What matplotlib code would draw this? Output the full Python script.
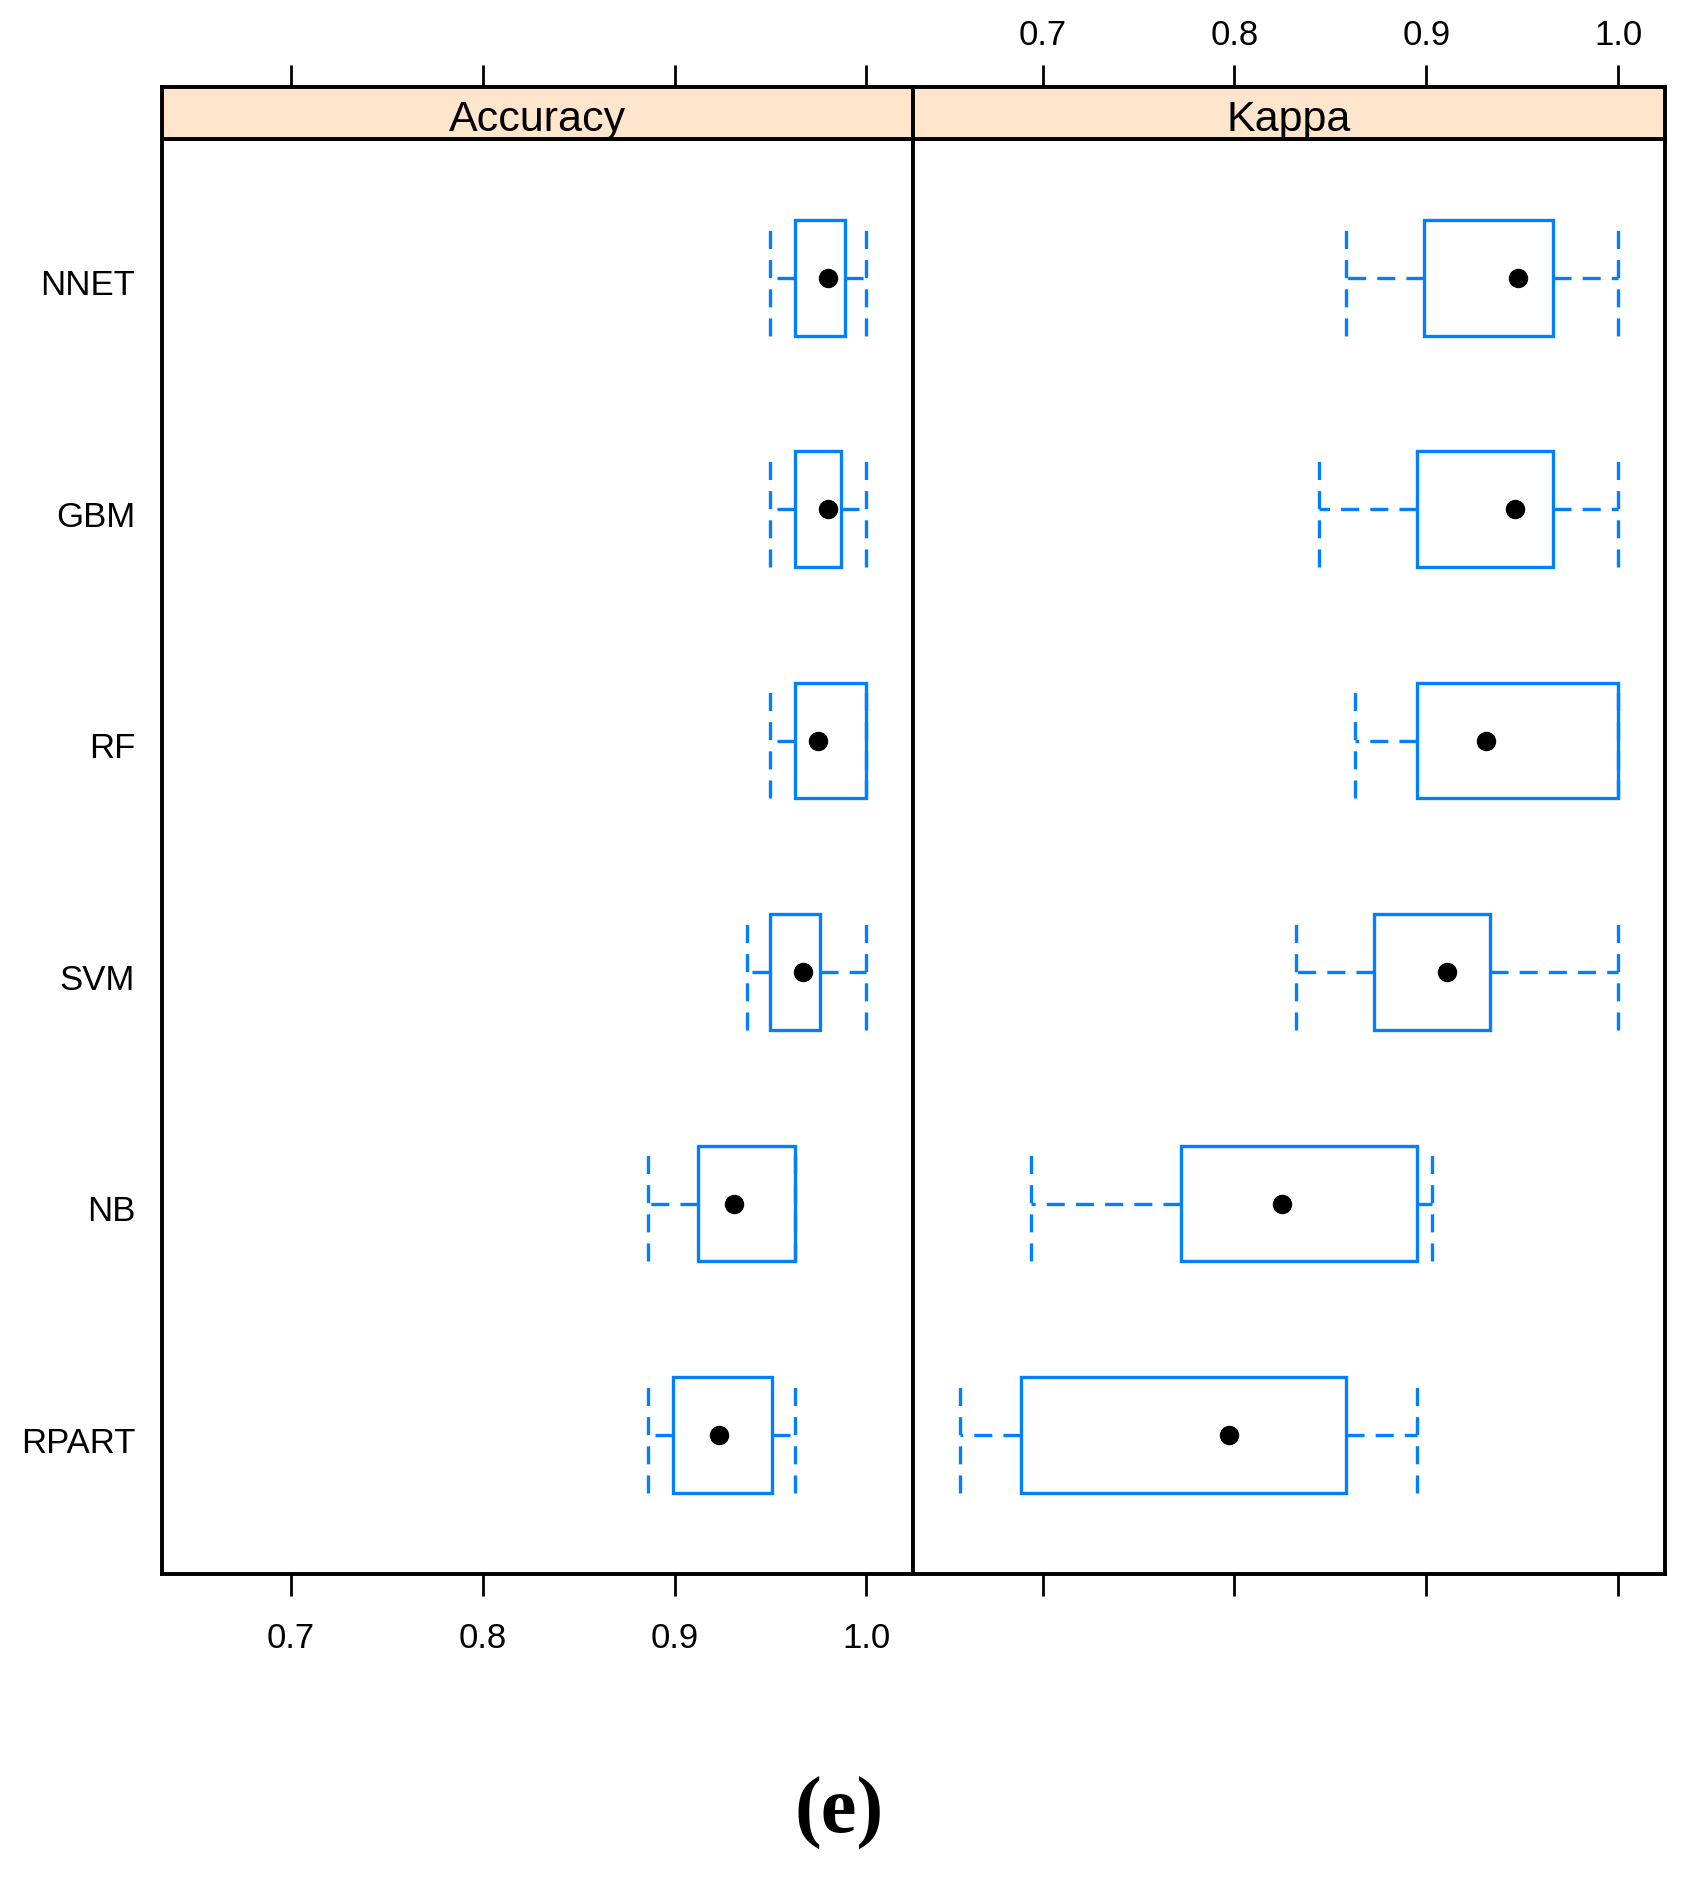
import matplotlib
matplotlib.use("Agg")
import matplotlib.pyplot as plt
from matplotlib.patches import Rectangle

plt.rcParams['font.family'] = ['Liberation Sans', 'DejaVu Sans']
plt.rcParams['lines.scale_dashes'] = False

# ---- data (bottom to top) ----
models = ["RPART", "NB", "SVM", "RF", "GBM", "NNET"]

acc_lo  = [0.886, 0.886, 0.938, 0.950, 0.950, 0.950]
acc_q1  = [0.899, 0.912, 0.950, 0.963, 0.963, 0.963]
acc_med = [0.923, 0.931, 0.967, 0.975, 0.980, 0.980]
acc_q3  = [0.951, 0.963, 0.976, 1.000, 0.987, 0.989]
acc_hi  = [0.963, 0.963, 1.000, 1.000, 1.000, 1.000]

kap_lo  = [0.657, 0.694, 0.832, 0.863, 0.844, 0.858]
kap_q1  = [0.689, 0.772, 0.873, 0.895, 0.895, 0.899]
kap_med = [0.797, 0.825, 0.911, 0.931, 0.946, 0.948]
kap_q3  = [0.858, 0.895, 0.933, 1.000, 0.966, 0.966]
kap_hi  = [0.895, 0.903, 1.000, 1.000, 1.000, 1.000]

panels = ["Accuracy", "Kappa"]
xticks = [0.7, 0.8, 0.9, 1.0]
xticklabels = ["0.7", "0.8", "0.9", "1.0"]
caption = "(e)"

BLUE = "#0080ff"
STRIP = "#ffe5cc"
XLIM = (0.6326, 1.0244)
YLIM = (0.4, 6.6)

W, H = 1696, 1877
fig = plt.figure(figsize=(W / 100, H / 100), dpi=100)

x_edges = [161.6, 913.2, 1665.0]
strip_top, strip_bot, panel_bot = 87.4, 138.8, 1573.9

def fy(p):
    return 1 - p / H

data = [
    (acc_lo, acc_q1, acc_med, acc_q3, acc_hi),
    (kap_lo, kap_q1, kap_med, kap_q3, kap_hi),
]

LW = 2.4
dash = (0, (13, 8))

for i, name in enumerate(panels):
    x0 = x_edges[i] / W
    w = (x_edges[i + 1] - x_edges[i]) / W
    ax = fig.add_axes([x0, fy(panel_bot), w, fy(strip_bot) - fy(panel_bot)])
    sx = fig.add_axes([x0, fy(strip_bot), w, fy(strip_top) - fy(strip_bot)])

    lo, q1, med, q3, hi = data[i]
    for j in range(len(models)):
        y = j + 1
        ax.add_patch(Rectangle((q1[j], y - 0.25), q3[j] - q1[j], 0.5,
                               fill=False, ec=BLUE, lw=LW, zorder=3))
        if q1[j] > lo[j]:
            ax.plot([q1[j], lo[j]], [y, y], color=BLUE, lw=LW, ls=dash,
                    dash_capstyle='butt')
        if hi[j] > q3[j]:
            ax.plot([q3[j], hi[j]], [y, y], color=BLUE, lw=LW, ls=dash,
                    dash_capstyle='butt')
        for xv in (lo[j], hi[j]):
            ax.plot([xv, xv], [y - 0.25, y + 0.25], color=BLUE, lw=LW,
                    ls=dash, dash_capstyle='butt')
        ax.plot([med[j]], [y], 'o', color='black', ms=13, zorder=5)

    ax.set_xlim(*XLIM)
    ax.set_ylim(*YLIM)
    sx.set_xlim(*XLIM)
    sx.set_ylim(0, 1)
    for a in (ax, sx):
        for s in a.spines.values():
            s.set_linewidth(2.8)
    sx.set_facecolor(STRIP)
    sx.text(0.5, 0.37, name, transform=sx.transAxes, ha='center', va='center',
            fontsize=31)
    sx.set_yticks([])
    sx.xaxis.set_ticks_position('top')
    sx.set_xticks(xticks)
    sx.tick_params(axis='x', direction='out', length=15.5, width=2.0,
                   pad=10, labelsize=25)
    if i == 1:
        sx.set_xticklabels(xticklabels)
    else:
        sx.set_xticklabels([])

    ax.set_xticks(xticks)
    ax.tick_params(axis='x', direction='out', length=15.5, width=2.0,
                   pad=19, labelsize=25)
    if i == 0:
        ax.set_xticklabels(xticklabels)
        ax.set_yticks([m + 0.98 for m in range(len(models))])
        ax.set_yticklabels(models)
        ax.tick_params(axis='y', length=0, pad=19, labelsize=25)
    else:
        ax.set_xticklabels([])
        ax.set_yticks([])

fig.text(839 / W, fy(1813), caption, ha='center', va='center',
         fontsize=58, fontweight='bold', family='Liberation Serif')

fig.savefig("out.png", dpi=100, facecolor='white')
